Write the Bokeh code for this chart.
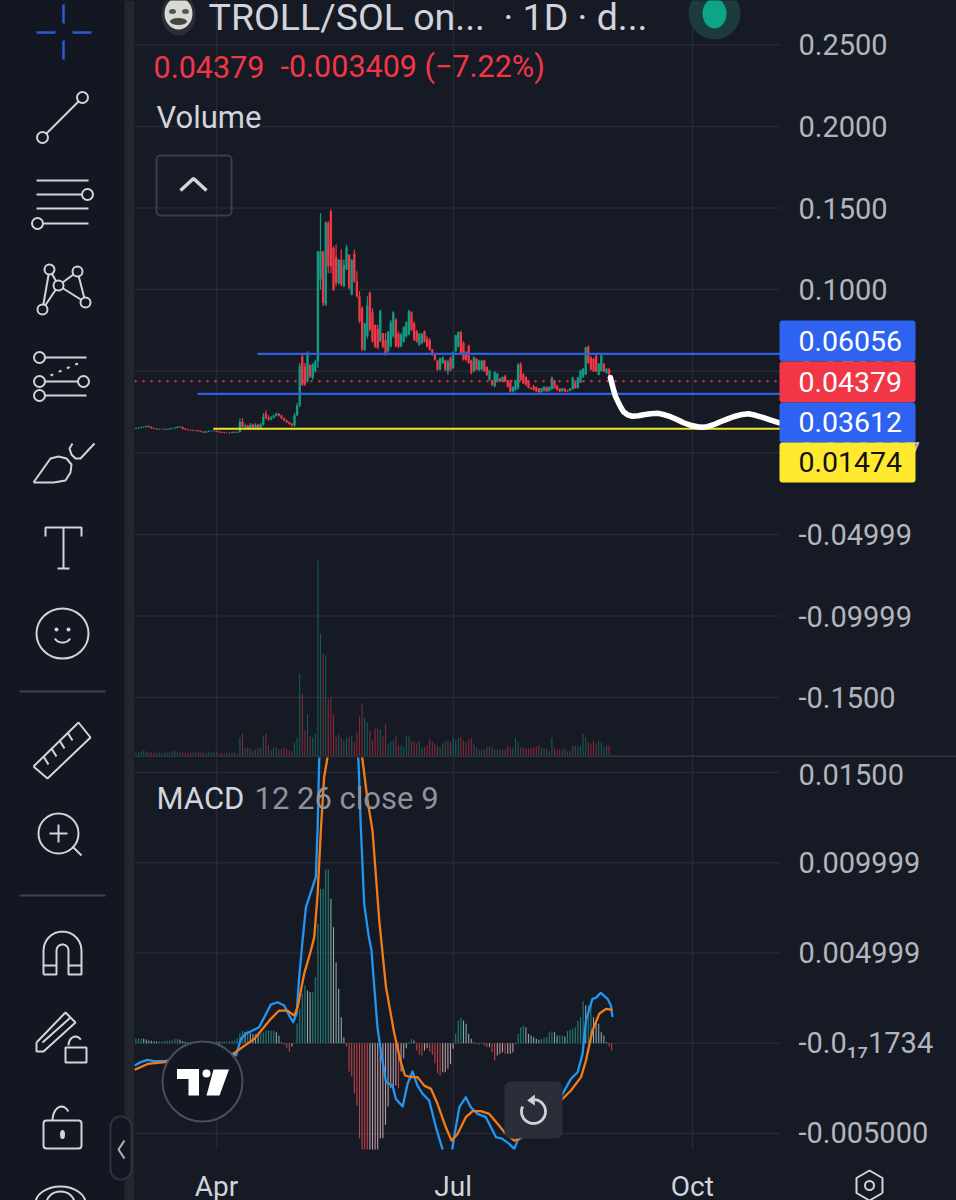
import numpy as np
from bokeh.plotting import figure
from bokeh.layouts import row, column
from bokeh.models import Range1d, FixedTicker, Label
from bokeh.embed import file_html
from bokeh.resources import INLINE

# ---- data ----
title_left = "TROLL/SOL on..."
title_right = "· 1D · d..."
price_ticks = [0.25, 0.20, 0.15, 0.10, 0.05, 0.0, -0.05, -0.10, -0.15]
price_tick_labels = ["0.2500", "0.2000", "0.1500", "0.1000", "0.05000", "0.000007", "-0.04999", "-0.09999", "-0.1500"]
macd_ticks = [0.015, 0.01, 0.005, 0.0, -0.005]
macd_tick_labels = ["0.01500", "0.009999", "0.004999", "-0.0₁₇1734", "-0.005000"]
month_days = [0, 91, 183]
month_labels = ["Apr", "Jul", "Oct"]

first_day = -31  # 1 March, counted from 1 April

open_ = [
 .0148,.0150,.0154,.0156,.0160,.0164,.0158,.0150,.0147,.0144,.0146,.0146,.0143,.0144,.0149,.0150,.0154,.0160,.0156,.0148,
 .0143,.0140,.0138,.0135,.0136,.0132,.0129,.0124,.0130,.0133,.0134,.0135,.0131,.0126,.0124,.0122,.0121,.0123,.0128,.0125,
 .0128,.0190,.0160,.0165,.0150,.0172,.0155,.0170,.0152,.0175,.0240,.0212,.0205,.0215,.0228,.0240,.0228,.0212,.0198,.0188,
 .0178,.0168,.0230,.0290,.0590,.0530,.0437,.0540,.0460,.0500,.0560,.1061,.1235,.0908,.1410,.1480,.1255,.1200,.1041,.1184,
 .1020,.1123,.1215,.0969,.1220,.1051,.0959,.0885,.0632,.0714,.0980,.0860,.0785,.0760,.0683,.0734,.0690,.0622,.0652,.0714,
 .0816,.0730,.0652,.0683,.0714,.0724,.0860,.0795,.0745,.0662,.0673,.0745,.0700,.0690,.0632,.0600,.0565,.0509,.0550,.0565,
 .0499,.0580,.0519,.0622,.0652,.0740,.0673,.0615,.0655,.0565,.0499,.0575,.0509,.0509,.0565,.0525,.0448,.0445,.0407,.0437,
 .0455,.0437,.0470,.0445,.0430,.0376,.0385,.0400,.0545,.0480,.0465,.0440,.0397,.0410,.0400,.0395,.0372,.0380,.0400,.0380,
 .0390,.0445,.0410,.0392,.0378,.0392,.0384,.0380,.0390,.0430,.0397,.0430,.0465,.0480,.0650,.0585,.0575,.0595,.0478,.0500,
 .0545,.0489,.0510,.0472]
high = [
 .0153,.0157,.0159,.0163,.0167,.0167,.0161,.0153,.0150,.0149,.0149,.0149,.0147,.0152,.0153,.0157,.0163,.0163,.0159,.0151,
 .0146,.0143,.0141,.0139,.0139,.0135,.0132,.0133,.0136,.0137,.0138,.0138,.0134,.0129,.0127,.0125,.0126,.0131,.0131,.0131,
 .0212,.0212,.0180,.0172,.0182,.0178,.0182,.0176,.0182,.0243,.0260,.0230,.0225,.0235,.0245,.0243,.0233,.0215,.0202,.0192,
 .0182,.0243,.0305,.0550,.0601,.0550,.0622,.0540,.0550,.0570,.1235,.1470,.1235,.1419,.1419,.1491,.1266,.1276,.1184,.1245,
 .1184,.1276,.1215,.1184,.1245,.1112,.0990,.0898,.0795,.0959,.0990,.0887,.0785,.0785,.0877,.0734,.0734,.0744,.0816,.0867,
 .0826,.0744,.0734,.0775,.0806,.0877,.0867,.0806,.0754,.0734,.0734,.0750,.0714,.0703,.0635,.0605,.0570,.0581,.0591,.0570,
 .0570,.0591,.0622,.0724,.0744,.0750,.0683,.0622,.0662,.0570,.0591,.0581,.0570,.0570,.0570,.0530,.0509,.0448,.0499,.0489,
 .0458,.0468,.0478,.0448,.0448,.0407,.0448,.0550,.0555,.0489,.0468,.0448,.0402,.0417,.0407,.0397,.0397,.0407,.0407,.0407,
 .0468,.0448,.0417,.0397,.0397,.0397,.0386,.0397,.0468,.0437,.0468,.0509,.0519,.0652,.0658,.0591,.0581,.0601,.0550,.0601,
 .0550,.0519,.0519,.0478]
low = [
 .0145,.0147,.0151,.0153,.0157,.0155,.0147,.0144,.0141,.0141,.0143,.0140,.0140,.0141,.0146,.0147,.0151,.0153,.0145,.0140,
 .0137,.0135,.0132,.0132,.0129,.0126,.0121,.0121,.0127,.0130,.0131,.0128,.0123,.0121,.0119,.0118,.0118,.0120,.0122,.0122,
 .0125,.0155,.0150,.0145,.0145,.0150,.0150,.0148,.0148,.0165,.0205,.0195,.0200,.0210,.0222,.0222,.0205,.0192,.0182,.0172,
 .0160,.0160,.0225,.0280,.0410,.0410,.0430,.0458,.0448,.0490,.0520,.1000,.0900,.0900,.1100,.1100,.0990,.1020,.1030,.1020,
 .1015,.1120,.1000,.0965,.1040,.0950,.0795,.0622,.0622,.0700,.0745,.0675,.0642,.0635,.0680,.0640,.0595,.0615,.0645,.0705,
 .0645,.0640,.0645,.0675,.0705,.0720,.0745,.0685,.0675,.0655,.0665,.0675,.0645,.0625,.0595,.0565,.0500,.0505,.0545,.0500,
 .0478,.0500,.0515,.0615,.0645,.0605,.0565,.0560,.0545,.0480,.0495,.0505,.0500,.0505,.0495,.0470,.0440,.0410,.0400,.0430,
 .0432,.0432,.0432,.0400,.0370,.0370,.0378,.0386,.0440,.0422,.0410,.0395,.0388,.0382,.0372,.0368,.0370,.0376,.0372,.0376,
 .0386,.0392,.0380,.0372,.0374,.0372,.0374,.0378,.0386,.0392,.0392,.0427,.0458,.0478,.0545,.0505,.0495,.0495,.0475,.0499,
 .0495,.0485,.0450,.0432]
close = [
 .0150,.0154,.0156,.0160,.0164,.0158,.0150,.0147,.0144,.0146,.0146,.0143,.0144,.0149,.0150,.0154,.0160,.0156,.0148,.0143,
 .0140,.0138,.0135,.0136,.0132,.0129,.0124,.0130,.0133,.0134,.0135,.0131,.0126,.0124,.0122,.0121,.0123,.0128,.0125,.0128,
 .0190,.0160,.0165,.0150,.0172,.0155,.0170,.0152,.0175,.0220,.0212,.0205,.0215,.0228,.0240,.0228,.0212,.0198,.0188,.0178,
 .0168,.0230,.0290,.0530,.0417,.0417,.0611,.0468,.0540,.0560,.1235,.1235,.0918,.1410,.1143,.1143,.1000,.1041,.1184,.1031,
 .1150,.1260,.1010,.1184,.1051,.0959,.0806,.0632,.0795,.0900,.0754,.0683,.0652,.0642,.0870,.0652,.0601,.0744,.0800,.0860,
 .0652,.0652,.0725,.0770,.0800,.0870,.0754,.0693,.0683,.0730,.0730,.0683,.0652,.0632,.0600,.0570,.0509,.0581,.0585,.0509,
 .0560,.0509,.0615,.0720,.0740,.0611,.0570,.0570,.0550,.0489,.0585,.0509,.0565,.0565,.0499,.0478,.0505,.0417,.0495,.0485,
 .0437,.0465,.0437,.0407,.0376,.0405,.0445,.0540,.0448,.0427,.0417,.0397,.0390,.0386,.0376,.0370,.0395,.0405,.0376,.0405,
 .0460,.0397,.0386,.0376,.0395,.0376,.0376,.0395,.0460,.0397,.0462,.0505,.0515,.0645,.0550,.0509,.0499,.0499,.0545,.0595,
 .0499,.0515,.0472,.04379]
volume = [
 3,3,4,5,4,3,3,3,3,3,3,3,3,3,4,5,4,3,3,3,3,3,3,3,4,3,3,3,4,3,3,3,2,3,2,3,3,3,3,2,
 18,22,8,8,7,5,6,7,8,20,22,10,5,8,8,6,7,8,6,5,4,
 13,18,82,62,25,41,19,18,22,195,122,102,100,56,58,41,19,21,18,15,18,19,20,13,23,39,52,38,33,
 25,15,27,27,26,19,31,11,14,15,19,10,10,8,19,19,14,14,12,14,8,8,10,17,14,12,10,8,12,14,
 15,14,17,15,18,19,15,13,16,17,11,8,6,6,6,8,9,8,6,6,6,6,6,10,8,8,18,14,8,8,7,7,8,8,9,10,
 7,7,7,5,18,7,6,6,6,7,4,5,10,10,9,10,22,18,13,12,15,12,14,13,8,10,10]

# MACD histogram, in units of 0.00001848
macd_hist_units = [
 13,14,14,13,11,8,7,6,5,5,5,6,7,8,9,12,13,10,6,4,3,2,2,1,1,1,2,3,4,5,5,5,4,4,5,5,6,7,8,14,
 30,36,34,38,30,28,26,25,30,32,38,38,38,38,33,22,3,-5,-15,-25,-10,
 2,60,103,148,173,158,153,153,198,358,463,463,520,520,433,348,243,163,78,18,
 -10,-85,-100,-150,-187,-285,-320,-340,-360,-360,-350,-340,-330,-285,-285,-245,-190,-135,-130,-127,
 -135,-85,-45,-15,3,13,8,-22,-35,-37,-22,-15,-25,-35,-60,-90,-97,-87,-87,-77,-62,-17,28,68,76,68,58,28,13,3,
 -2,-4,3,-8,-12,-12,-27,-52,-37,-32,-27,-32,-32,-32,-27,-2,28,48,53,48,28,23,18,13,10,12,16,18,33,36,33,23,23,23,20,36,
 40,43,48,68,78,126,113,113,113,78,68,58,33,23,3,-10,-22]

macd_candle = [
 -.6,1.9,4.5,7,11,16,21,27.5,34,38.5,40.4,42.3,44.9,47.4,49.4,51.9,54.5,57,59,60.5,61.8,62.8,64.1,65.4,67.3,69.2,69.9,70.5,
 73.7,77.6,82.7,85.6,86.5,87.8,89.4,90.6,92.9,94.2,96.2,98.7,100,102.6,104.5,106.4,108.3,110.3,112.8,115.4,118,119.2,121.2,
 122.4,124.4,126.9,128.8,131.4,134.6,137.2,138.5,141,143.6,145.5,146.8,152,159.6,164.1,167.3,169.9,171.8,173.1,175.6,176.9,
 178.8,181.4,182.7,183.3]
macd_line = [
 -.00124,-.00105,-.00092,-.00100,-.00100,-.00087,-.00068,-.00055,-.00041,-.00068,.00024,.00052,.00070,.00089,.00144,.00214,
 .00227,.00209,.00153,.00116,.00163,.00366,.00569,.00754,.00837,.00920,.01198,.01567,.0203,.0221,.01937,.01567,.01198,.00772,
 .00606,.00514,.00089,-.00041,-.00216,-.00235,-.00309,-.00351,-.00225,-.00157,-.00235,-.00281,-.00318,-.00466,-.00591,-.00632,
 -.00632,-.00521,-.00355,-.00299,-.00355,-.00392,-.00410,-.00484,-.00521,-.00530,-.00558,-.00586,-.00540,-.00466,-.00355,
 -.00281,-.00198,-.00161,-.00059,.00126,.00246,.00251,.00279,.00246,.00209,.00144]
signal_candle = [
 -.6,4.5,11,18.6,27.5,36.5,41,45.5,48.7,51.9,55.1,58.3,60.9,62.2,64.7,67.3,68.6,69.9,71.2,72.4,73.5,77.6,82.7,87.2,89.1,91,
 93.6,96.2,99.4,101.9,103.5,105.8,108.3,110.9,113.5,116,119.2,121.4,123.7,126.9,129.5,132.7,135.9,139.1,142.3,145.5,148.7,
 157,163.5,167.3,171.2,173.1,175.6,178.2,180.8,183.3]
signal_line = [
 -.00148,-.00115,-.00105,-.00087,-.00068,-.00068,-.00022,.00024,.00079,.00135,.00181,.00181,.00153,.00200,.00384,.00514,
 .00588,.00828,.01198,.01475,.01567,.02029,.02029,.01567,.01345,.01179,.00680,.00310,.00052,-.00105,-.00179,-.00188,-.00188,
 -.00235,-.00253,-.00336,-.00466,-.00540,-.00503,-.00410,-.00377,-.00377,-.00392,-.00447,-.00503,-.00540,-.00521,-.00392,
 -.00318,-.00262,-.00188,-.00096,.00070,.00163,.00190,.00185]

hline_prices = [0.06056, 0.03612, 0.01474]
hline_start_days = [15.8, -7.3, -1.2]
hline_colors = ["#2f5fe0", "#2f5fe0", "#f5e32b"]
last_price = 0.04379

forecast_days = [151.5,152.1,152.7,153.5,154.6,155.6,156.5,158.1,160,162.3,164.2,166.9,170,172.3,174.6,177.3,179.6,182.3,185,
                 186.9,188.8,191.2,193.8,196.2,198.8,201.5,204.6,207.3,210.4,213.5,216.5]
forecast_prices = [.0460,.0423,.0387,.0344,.0307,.0276,.0252,.0233,.0224,.0227,.0233,.0239,.0242,.0233,.0221,.0202,.0184,.0169,.0160,
                   .0156,.0160,.0172,.0190,.0205,.0221,.0233,.0239,.0230,.0215,.0199,.0184]

tag_texts = ["0.06056", "0.04379", "0.03612", "0.01474"]
tag_fills = ["#2e62f0", "#f23645", "#2e62f0", "#ffe92f"]
tag_text_colors = ["#ffffff", "#ffffff", "#ffffff", "#111111"]

# ---- look ----
BG = "#161a25"
SIDE = "#131722"
GRID = "#252933"
GREEN = "#0f9d84"
RED = "#f23645"
INK = "#d1d4dc"
AXIS_INK = "#b2b5be"
FONT = "Roboto"

days = np.arange(len(close)) + first_day
x_start, x_edge, x_end = (134 - 216) / 2.6, (780 - 216) / 2.6, (956 - 216) / 2.6
price_of = lambda py: (452.3 - py) / 1632
macd_of = lambda py: (1042.7 - py) / 18040
PX = dict(x_range_name="px", y_range_name="py")


def lab(fig, ox, oy, px, py, text, size, color, align="left", baseline="middle", font=FONT):
    fig.add_layout(Label(x=px - ox, y=oy - py, x_units="screen", y_units="screen", text=text,
                         text_font=font, text_font_size=f"{size}px", text_color=color,
                         text_align=align, text_baseline=baseline))


def base(fig, ticks, labels, y_of_tick_end):
    fig.background_fill_color = BG
    fig.border_fill_color = BG
    fig.outline_line_color = None
    fig.yaxis.fixed_location = y_of_tick_end
    fig.yaxis.ticker = FixedTicker(ticks=ticks)
    fig.yaxis.major_label_overrides = dict(zip(ticks, labels))
    fig.yaxis.major_label_text_font = FONT
    fig.yaxis.major_label_text_font_size = "29px"
    fig.yaxis.major_label_text_color = AXIS_INK
    fig.yaxis.major_label_standoff = 18
    fig.yaxis.major_tick_line_color = None
    fig.yaxis.minor_tick_line_color = None
    fig.yaxis.axis_line_color = None
    fig.yaxis.major_tick_in = 0
    fig.yaxis.major_tick_out = 0
    fig.xgrid.ticker = FixedTicker(ticks=month_days)
    fig.xgrid.grid_line_color = GRID
    fig.xgrid.grid_line_width = 1.5
    fig.ygrid.visible = False
    r = fig.segment([x_start] * len(ticks), ticks, [x_edge] * len(ticks), ticks, line_color=GRID, line_width=1.5)
    r.level = "underlay"


# ---- price pane: page y 0..757, x 134..956 ----
price = figure(width=822, height=757, output_backend="svg", toolbar_location=None,
               x_range=Range1d(x_start, x_end), y_range=Range1d(price_of(757), price_of(0)),
               y_axis_location="right", min_border=0,
               extra_x_ranges={"px": Range1d(134, 956)},
               extra_y_ranges={"py": Range1d(757, 0), "vol": Range1d(-2, 755)})
base(price, price_ticks, price_tick_labels, x_edge)
price.xaxis.visible = False

o, h, l, c = map(np.array, (open_, high, low, close))
up = c >= o
cols = [GREEN if u else RED for u in up]
price.vbar(days, 0.42, volume, 0, y_range_name="vol", fill_color=cols, line_color=None, fill_alpha=0.5)
price.segment(days, l, days, h, line_color=cols, line_width=1.2)
price.vbar(days, 0.9, np.maximum(o, c), np.minimum(o, c), fill_color=cols, line_color=None)

price.segment(x_start, last_price, x_edge, last_price, line_color="#f23645", line_width=2, line_dash="2 6")
for p_, s_, col_ in zip(hline_prices, hline_start_days, hline_colors):
    price.segment(s_, p_, x_edge, p_, line_color=col_, line_width=2.2)
price.line(forecast_days, forecast_prices, line_color="#ffffff", line_width=5.5, line_join="round", line_cap="round")

# header decorations
price.ellipse([178], [14], width=34, height=42, fill_color="#2a2e39", line_color=None, **PX)
price.ellipse([178], [13], width=28, height=32, fill_color="#d8d8d4", line_color=None, **PX)
price.ellipse([172, 185], [11, 11], width=7, height=5, fill_color="#55574f", line_color=None, **PX)
price.ellipse([178], [21], width=17, height=7, fill_color="#44463f", line_color=None, **PX)
price.ellipse([714], [13], width=52, height=52, fill_color="#1d3a3d", line_color=None, **PX)
price.ellipse([714], [13], width=24, height=30, fill_color="#0ca585", line_color=None, **PX)
price.quad(left=[156], right=[231], top=[155], bottom=[215], fill_color=None, line_color="#3a3e49", line_width=2,
           border_radius=4, **PX)
price.line([180, 193, 206], [190, 178, 190], line_color=INK, line_width=3.5, **PX)

lab(price, 134, 757, 208, 16, title_left, 37.5, INK)
lab(price, 134, 757, 503, 16, title_right, 37.5, INK)
lab(price, 134, 757, 153, 66, "0.04379", 30.5, "#f23645")
lab(price, 134, 757, 280, 66, "-0.003409 (−7.22%)", 30.5, "#f23645")
lab(price, 134, 757, 156, 117, "Volume", 31, INK)

# price tags over the axis
tag_tops = [320, 361, 402, 442]
tag_bottoms = [361, 402, 442, 482]
for t_, f_, tc_, top, bot in zip(tag_texts, tag_fills, tag_text_colors, tag_tops, tag_bottoms):
    r = price.quad(left=[779], right=[915], top=[top], bottom=[bot], fill_color=f_, line_color=None, border_radius=3, **PX)
    r.level = "annotation"
    lab(price, 134, 757, 798, (top + bot) / 2 - 0.5, t_, 28.5, tc_)
# pane separator
r = price.segment(134, 756, 956, 756, line_color="#2e323d", line_width=2, **PX)
r.level = "annotation"

# ---- MACD pane: page y 757..1200, data clipped at 1149 ----
macd = figure(width=822, height=443, output_backend="svg", toolbar_location=None,
              x_range=price.x_range, y_range=Range1d(macd_of(1200), macd_of(757)),
              y_axis_location="right", min_border=0,
              extra_x_ranges={"px": Range1d(134, 956)}, extra_y_ranges={"py": Range1d(1200, 757)})
base(macd, macd_ticks, macd_tick_labels, x_edge)
macd.xaxis.fixed_location = macd_of(1149)
macd.xaxis.ticker = FixedTicker(ticks=month_days)
macd.xaxis.major_label_overrides = dict(zip(month_days, month_labels))
macd.xaxis.major_label_text_font = FONT
macd.xaxis.major_label_text_font_size = "28px"
macd.xaxis.major_label_text_color = INK
macd.xaxis.major_label_standoff = 20
macd.xaxis.major_tick_line_color = None
macd.xaxis.minor_tick_line_color = None
macd.xaxis.axis_line_color = None
macd.xaxis.major_tick_in = 0
macd.xaxis.major_tick_out = 0

hist = np.array(macd_hist_units) * 1.848e-5
prev = np.concatenate([[hist[0]], hist[:-1]])
hist_cols = [("#26a69a" if v >= q else "#b2dfdb") if v >= 0 else ("#ffcdd2" if v >= q else "#ff5252")
             for v, q in zip(hist, prev)]
macd.vbar(days, 0.42, hist, 0, fill_color=hist_cols, line_color=None, fill_alpha=0.72)
macd.line(np.array(macd_candle) + first_day, macd_line, line_color="#2196f3", line_width=2.3, line_join="round")
macd.line(np.array(signal_candle) + first_day, signal_line, line_color="#f57c14", line_width=2.3, line_join="round")
# strip below the pane, where the time axis sits
macd.quad(left=[134], right=[956], top=[1149], bottom=[1200], fill_color=BG, line_color=None, **PX)

# TradingView badge
macd.ellipse([202], [1081], width=80, height=80, fill_color="#131722", line_color="#4a4e59", line_width=2, **PX)
macd.patch([176.5, 198.5, 198.5, 188, 188, 176.5], [1068.5, 1068.5, 1095, 1095, 1078.5, 1078.5], fill_color="#ffffff", line_color=None, **PX)
macd.ellipse([206], [1073], width=8, height=8, fill_color="#ffffff", line_color=None, **PX)
macd.patch([213, 228.5, 219, 206], [1069, 1069, 1095, 1095], fill_color="#ffffff", line_color=None, **PX)
# reset button
macd.quad(left=[504], right=[562], top=[1081], bottom=[1138], fill_color="#2a2e39", line_color=None, border_radius=6, **PX)
ang = np.radians(np.linspace(-85, 205, 40))
macd.line(533 + 12 * np.cos(ang), 1111 + 12 * np.sin(ang), line_color=INK, line_width=2.8, **PX)
macd.patch([526.7, 534.3, 534.3], [1100, 1094, 1105], fill_color=INK, line_color=None, **PX)

lab(macd, 134, 1200, 156, 798, "MACD", 31, INK)
lab(macd, 134, 1200, 254, 798, "12 26 close 9", 31, "#8f929c")
# settings icon
hex_a = np.radians(np.arange(30, 391, 60))
macd.line(869 + 15 * np.cos(hex_a), 1185 + 15 * np.sin(hex_a), line_color=INK, line_width=2, **PX)
macd.ellipse([869], [1185], width=9, height=9, fill_color=None, line_color=INK, line_width=2, **PX)

# ---- tool rail: page x 0..134 ----
rail = figure(width=134, height=1200, output_backend="svg", toolbar_location=None,
              x_range=Range1d(0, 134), y_range=Range1d(1200, 0), x_axis_location=None, y_axis_location=None,
              min_border=0, outline_line_color=None, background_fill_color=SIDE, border_fill_color=SIDE)
rail.xgrid.visible = False
rail.ygrid.visible = False
rail.quad(left=[124], right=[134], top=[0], bottom=[1200], fill_color="#22262f", line_color=None)
STROKE = dict(line_color=INK, line_width=2)


def ln(xs, ys, **kw):
    rail.line(xs, ys, **{**STROKE, **kw})


def ring(cx, cy, rx=5.5, ry=None):
    rail.ellipse([cx], [cy], width=2 * rx, height=2 * (ry or rx), fill_color=None, **STROKE)


for seg in ([[63, 63], [4, 23]], [[63, 63], [40, 59]], [[36, 55], [32, 32]], [[72, 91], [32, 32]]):
    ln(seg[0], seg[1], line_color="#2a5bd7", line_width=2.5)
ln([46, 78], [133, 101]); ring(42, 137); ring(82, 97)
ln([36, 88], [180, 180]); ln([36, 82], [194, 194]); ring(87, 194)
ln([36, 88], [208, 208]); ln([43, 88], [223, 223]); ring(37, 223)
for a_, b_ in (((49, 269), (58, 285)), ((49, 269), (42, 309)), ((42, 309), (58, 285)), ((58, 285), (77, 271)),
               ((58, 285), (85, 302)), ((77, 271), (85, 302))):
    ln([a_[0], b_[0]], [a_[1], b_[1]])
for cx, cy in ((49, 269), (77, 271), (58, 285), (42, 309), (85, 302)):
    rail.ellipse([cx], [cy], width=10, height=10, fill_color=SIDE, **STROKE)
ln([44, 86], [357, 357]); ring(39, 357)
ln([50, 82], [375, 361], line_dash="3 6")
ln([44, 78], [381, 381]); ring(39, 381); ring(83, 381)
ln([44, 86], [395, 395]); ring(39, 395)
ln([33, 45, 50, 58, 66, 71, 70, 65, 53, 33], [482, 465, 458, 456, 458, 464, 472, 480, 482, 482])
ln([72, 69, 71, 75, 80, 94], [443, 448, 454, 458, 458, 443])
ln([45, 45, 81, 81], [536, 527, 527, 536]); ln([63, 63], [527, 568]); ln([57, 69], [568, 568])
ring(62, 633, 26, 25)
rail.ellipse([56, 68], [629, 629], width=4, height=4, fill_color=INK, line_color=None)
ta = np.radians(np.linspace(20, 160, 12))
ln(62 + 8 * np.cos(ta), 636 + 6 * np.sin(ta))
ln([19, 105], [691, 691], line_color="#3f434e"); ln([19, 105], [895, 895], line_color="#3f434e")
ln([33, 78, 90, 47, 33], [766, 722, 737, 778, 766])
for tx, ty in ((43, 756), (51, 748), (59, 740), (67, 732)):
    ln([tx, tx + 5], [ty, ty + 8])
ring(58, 833, 20, 20); ln([72, 81], [846, 855]); ln([49, 67], [833, 833]); ln([58, 58], [824, 842])
ma = np.radians(np.linspace(180, 360, 14))
ln(list(43 + 0 * ma[:1]) + list(62 + 19 * np.cos(ma)) + [81, 68] + list(62 + 6 * np.cos(ma[::-1])) + [56, 43],
   [974] + list(950 + 19 * np.sin(ma)) + [974, 974] + list(950 + 6 * np.sin(ma[::-1])) + [974, 974])
ln([43, 56], [965, 965]); ln([68, 81], [965, 965])
ln([36, 65, 75, 43, 36, 36], [1042, 1012, 1022, 1051, 1051, 1042]); ln([42, 70], [1042, 1017])
rail.quad(left=[65], right=[86], top=[1047], bottom=[1062], fill_color=SIDE, **STROKE)
sa = np.radians(np.linspace(180, 320, 10))
ln(75 + 7 * np.cos(sa), 1045 + 9 * np.sin(sa))
rail.quad(left=[43], right=[81], top=[1120], bottom=[1148], fill_color=None, border_radius=3, **STROKE)
la = np.radians(np.linspace(180, 320, 10))
ln(61 + 9 * np.cos(la), 1120 + 14 * np.sin(la))
rail.ellipse([62], [1134], width=5, height=9, fill_color=INK, line_color=None)
ring(60, 1203, 25, 17); ring(60, 1203, 14, 12)
rail.quad(left=[110], right=[131], top=[1116], bottom=[1179], fill_color=SIDE, line_color="#2e323d",
          line_width=2, border_radius=10)
ln([124, 118, 124], [1140, 1149, 1158], line_color=AXIS_INK)

page = row(rail, column(price, macd))
html = file_html(page, INLINE)
html = html.replace("<head>", "<head><style>html,body{background:#161a25}</style>", 1)
open("out.html", "w").write(html)
